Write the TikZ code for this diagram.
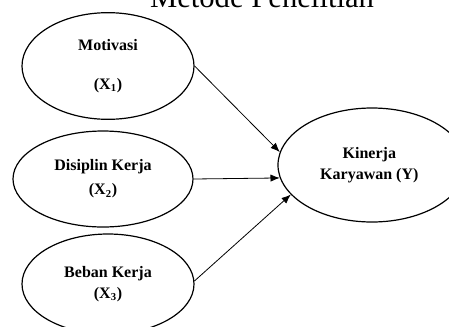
\documentclass[tikz,border=0pt]{standalone}
\usepackage{fontspec}
\setmainfont{Liberation Serif}
\usepackage{tikz}
\usetikzlibrary{shapes.geometric, arrows.meta}

\begin{document}
\begin{tikzpicture}[x=0.75pt,y=-0.75pt,
    var/.style={draw,ellipse,line width=0.9pt,inner sep=0pt,align=center,font=\bfseries\fontsize{12}{14}\selectfont},
    path/.style={line width=0.6pt,-{Latex[length=7pt,width=5.5pt]}}]
      \useasboundingbox (0,0) rectangle (449,326);
      \clip (0,0) rectangle (449,326);
      \node (T) at (262,7) [anchor=base,font=\fontsize{23}{27}\selectfont] {Metode Penelitian};
      \node [var,minimum width=129pt,minimum height=80pt] (M) at (108,66) {Motivasi\\[15pt](X\textsubscript{1})};
      \node [var,minimum width=135pt,minimum height=72pt] (D) at (103,179) {Disiplin Kerja\\[4pt](X\textsubscript{2})};
      \node [var,minimum width=129pt,minimum height=75pt] (B) at (108,284) {Beban Kerja\\[2pt](X\textsubscript{3})};
      \node [var,minimum width=141pt,minimum height=85.5pt] (Y) at (372,165) {\hspace*{-4pt}Kinerja\\[2pt]\hspace*{-4pt}Karyawan (Y)};
      \draw [path] (M.east) to (Y.172);
      \draw [path] (D.east) to (Y.188);
      \draw [path] (B.2) to (Y.200);
    \end{tikzpicture}
\end{document}
